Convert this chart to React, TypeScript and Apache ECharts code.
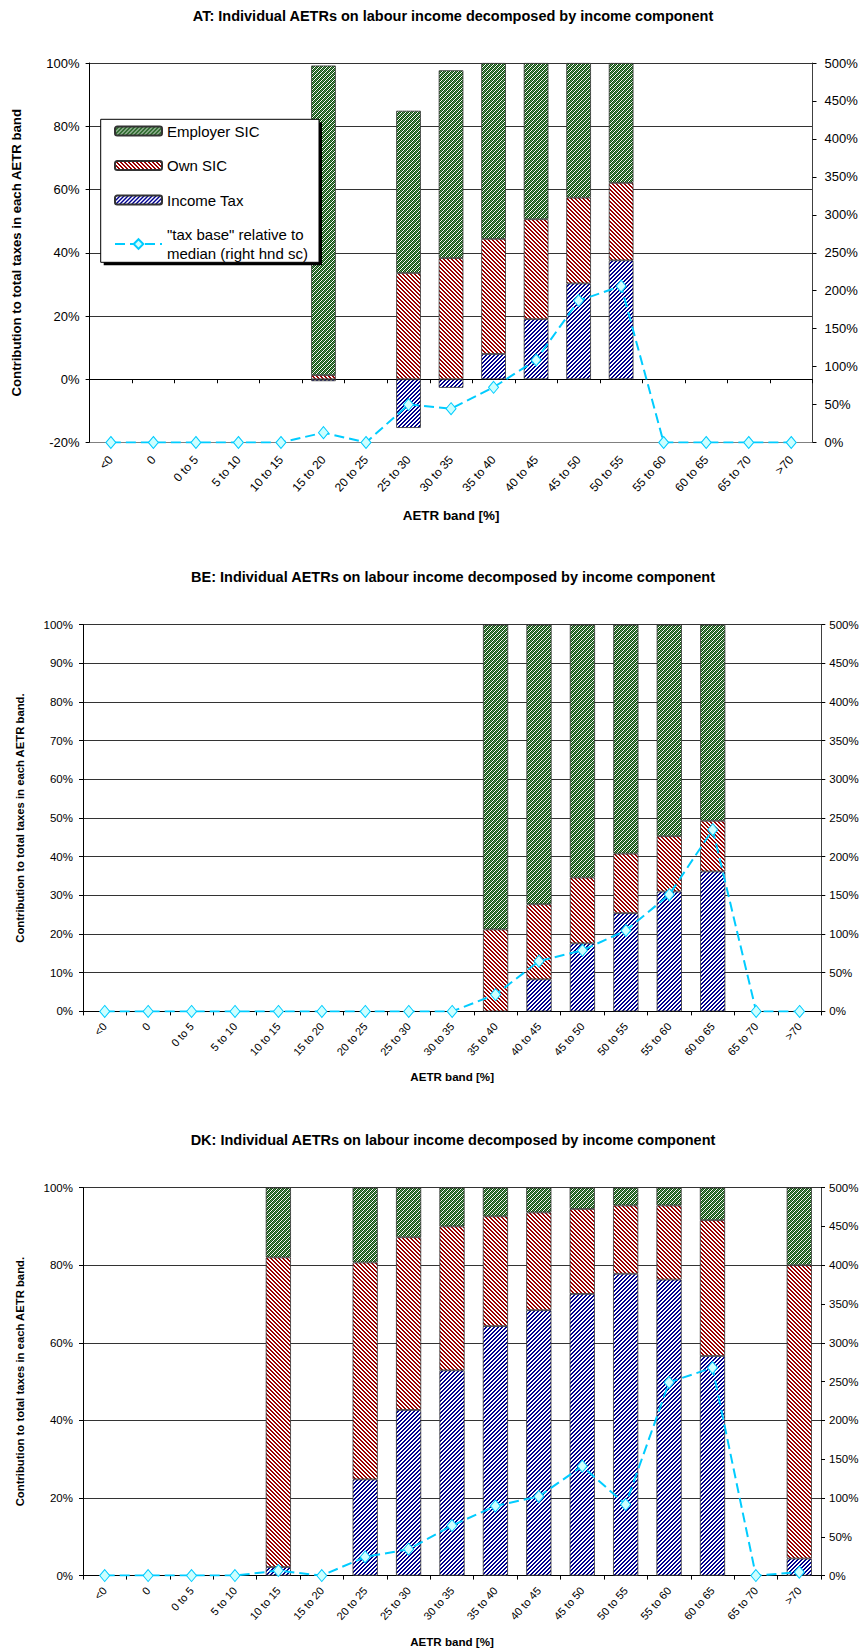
import React, { useEffect, useRef } from 'react';
import * as echarts from 'echarts';

const categories = ['<0', '0', '0 to 5', '5 to 10', '10 to 15', '15 to 20', '20 to 25', '25 to 30', '30 to 35', '35 to 40', '40 to 45', '45 to 50', '50 to 55', '55 to 60', '60 to 65', '65 to 70', '>70'];

const titles = [
  'AT: Individual AETRs on labour income decomposed by income component',
  'BE: Individual AETRs on labour income decomposed by income component',
  'DK: Individual AETRs on labour income decomposed by income component',
];

const seriesNames = ['Income Tax', 'Own SIC', 'Employer SIC'];
const lineName = '"tax base" relative to median (right hnd sc)';

// AT
const atIncomeTax = [null, null, null, null, null, -0.6, null, -15.4, -2.7, 8.0, 19.0, 30.3, 37.6, null, null, null, null];
const atOwnSic = [null, null, null, null, null, 1.3, null, 33.6, 38.3, 36.4, 31.6, 27.1, 24.5, null, null, null, null];
const atEmployerSic = [null, null, null, null, null, 97.9, null, 51.3, 59.4, 55.6, 49.4, 42.6, 37.9, null, null, null, null];
const atTaxBase = [0, 0, 0, 0, 0, 13, 0, 50, 44.5, 72.7, 108.7, 187, 206, 0, 0, 0, 0];

// BE
const beIncomeTax = [null, null, null, null, null, null, null, null, null, null, 8.3, 17.6, 25.4, 31.0, 36.2, null, null];
const beOwnSic = [null, null, null, null, null, null, null, null, null, 21.2, 19.4, 17.0, 15.4, 14.3, 13.1, null, null];
const beEmployerSic = [null, null, null, null, null, null, null, null, null, 78.8, 72.3, 65.4, 59.2, 54.7, 50.7, null, null];
const beTaxBase = [0, 0, 0, 0, 0, 0, 0, 0, 0, 21.8, 65, 79, 104.6, 151, 235, 0, 0];

// DK
const dkIncomeTax = [null, null, null, null, 2.2, null, 24.8, 42.7, 52.9, 64.3, 68.4, 72.6, 77.8, 76.3, 56.6, null, 4.4];
const dkOwnSic = [null, null, null, null, 79.8, null, 55.9, 44.5, 37.1, 28.3, 25.2, 21.9, 17.6, 19.1, 35.0, null, 75.6];
const dkEmployerSic = [null, null, null, null, 18.0, null, 19.3, 12.8, 10.0, 7.4, 6.4, 5.5, 4.6, 4.6, 8.4, null, 20.0];
const dkTaxBase = [0, 0, 0, 0, 6.5, 0, 24, 34, 64.5, 89.7, 102, 141, 91.5, 249, 268, 0, 4.4];

const leftTicksAT = { min: -20, max: 100, interval: 20 };
const leftTicksBE = { min: 0, max: 100, interval: 10 };
const leftTicksDK = { min: 0, max: 100, interval: 20 };
const rightTicks = { min: 0, max: 500, interval: 50 };

const FONT = 'Arial, "Liberation Sans", sans-serif';

function makeTile(size: number, pick: (x: number, y: number) => string) {
  const c = document.createElement('canvas');
  c.width = size;
  c.height = size;
  const ctx = c.getContext('2d')!;
  for (let y = 0; y < size; y++) {
    for (let x = 0; x < size; x++) {
      ctx.fillStyle = pick(x, y);
      ctx.fillRect(x, y, 1, 1);
    }
  }
  return c;
}

export default function App() {
  const ref = useRef<HTMLDivElement>(null);

  useEffect(() => {
    const chart = echarts.init(ref.current!, null, { renderer: 'svg' });

    const greenRows = ['DWDM', 'WDMD', 'DMDW', 'MDWD'];
    const greenTile = makeTile(4, (x, y) => {
      const ch = greenRows[y][x];
      return ch === 'D' ? '#0B4F0B' : ch === 'M' ? '#5E8E5E' : '#FFFFFF';
    });
    const redTile = makeTile(4, (x, y) => ((((x - y) % 4) + 4) % 4 < 2 ? '#9A0000' : '#FFFFFF'));
    const blueTile = makeTile(4, (x, y) => ((x + y) % 4 < 2 ? '#000090' : '#FFFFFF'));

    const fills: any = {
      'Employer SIC': { image: greenTile, repeat: 'repeat' },
      'Own SIC': { image: redTile, repeat: 'repeat' },
      'Income Tax': { image: blueTile, repeat: 'repeat' },
    };

    const charts = [
      {
        grid: { left: 89.6, top: 63, width: 722.9, height: 379.5 },
        left: leftTicksAT,
        data: [atIncomeTax, atOwnSic, atEmployerSic],
        line: atTaxBase,
        titleTop: 8,
        tickFont: 13,
        xFont: 12,
        nameFont: 13.4,
        yName: 'Contribution to total taxes in each AETR band',
        yNameFont: 13.2,
        yNameGap: 67,
        xNameGap: 66,
        xLabelMargin: 15,
        rightMargin: 12,
        zeroAxis: true,
      },
      {
        grid: { left: 83, top: 624.7, width: 738.3, height: 386.7 },
        left: leftTicksBE,
        data: [beIncomeTax, beOwnSic, beEmployerSic],
        line: beTaxBase,
        titleTop: 569.5,
        tickFont: 11.5,
        xFont: 11,
        nameFont: 11.6,
        yName: 'Contribution to total taxes in each AETR band.',
        yNameFont: 11.3,
        yNameGap: 58,
        xNameGap: 59,
        xLabelMargin: 13,
        rightMargin: 8,
        zeroAxis: false,
      },
      {
        grid: { left: 83, top: 1187.6, width: 738, height: 388 },
        left: leftTicksDK,
        data: [dkIncomeTax, dkOwnSic, dkEmployerSic],
        line: dkTaxBase,
        titleTop: 1132.5,
        tickFont: 11.5,
        xFont: 11,
        nameFont: 11.6,
        yName: 'Contribution to total taxes in each AETR band.',
        yNameFont: 11.3,
        yNameGap: 58,
        xNameGap: 60,
        xLabelMargin: 13,
        rightMargin: 8,
        zeroAxis: false,
      },
    ];

    const grid: any[] = [];
    const xAxis: any[] = [];
    const yAxis: any[] = [];
    const series: any[] = [];
    const title: any[] = [];

    charts.forEach((c, gi) => {
      grid.push({ ...c.grid, containLabel: false });
      title.push({
        text: titles[gi],
        left: 453,
        top: c.titleTop,
        textAlign: 'center',
        padding: 0,
        textStyle: { fontSize: 14.5, fontWeight: 'bold', fontFamily: FONT, color: '#000' },
      });

      const labelAxisIndex = xAxis.length;
      xAxis.push({
        type: 'category',
        gridIndex: gi,
        data: categories,
        position: 'bottom',
        boundaryGap: true,
        axisLine: { show: true, onZero: false, lineStyle: { color: c.zeroAxis ? '#808080' : '#000', width: 1 } },
        axisTick: { show: !c.zeroAxis, interval: 0, length: 4, lineStyle: { color: '#000' } },
        axisLabel: {
          interval: 0,
          rotate: 48,
          margin: c.xLabelMargin,
          fontSize: c.xFont,
          fontFamily: FONT,
          color: '#000',
        },
        splitLine: { show: false },
        name: 'AETR band [%]',
        nameLocation: 'middle',
        nameGap: c.xNameGap,
        nameTextStyle: { fontSize: c.nameFont, fontWeight: 'bold', fontFamily: FONT, color: '#000' },
      });

      const leftIndex = yAxis.length;
      yAxis.push({
        type: 'value',
        gridIndex: gi,
        position: 'left',
        min: c.left.min,
        max: c.left.max,
        interval: c.left.interval,
        axisLine: { show: true, lineStyle: { color: '#000', width: 1 } },
        axisTick: { show: true, length: 4, lineStyle: { color: '#000' } },
        axisLabel: { formatter: '{value}%', fontSize: c.tickFont, fontFamily: FONT, color: '#000', margin: 10 },
        splitLine: { show: true, lineStyle: { color: '#333', width: 1 } },
        name: c.yName,
        nameLocation: 'middle',
        nameGap: c.yNameGap,
        nameTextStyle: { fontSize: c.yNameFont, fontWeight: 'bold', fontFamily: FONT, color: '#000' },
      });
      const rightIndex = yAxis.length;
      yAxis.push({
        type: 'value',
        gridIndex: gi,
        position: 'right',
        min: rightTicks.min,
        max: rightTicks.max,
        interval: rightTicks.interval,
        axisLine: { show: true, lineStyle: { color: '#404040', width: 1 } },
        axisTick: { show: true, length: 4, lineStyle: { color: '#000' } },
        axisLabel: { formatter: '{value}%', fontSize: c.tickFont, fontFamily: FONT, color: '#000', margin: c.rightMargin },
        splitLine: { show: false },
      });

      if (c.zeroAxis) {
        xAxis.push({
          type: 'category',
          gridIndex: gi,
          data: categories,
          position: 'top',
          boundaryGap: true,
          axisLine: { show: true, onZero: true, onZeroAxisIndex: leftIndex, lineStyle: { color: '#000', width: 1 } },
          axisTick: { show: true, inside: true, interval: 0, length: 4, lineStyle: { color: '#000' } },
          axisLabel: { show: false },
          splitLine: { show: false },
        });
      }

      seriesNames.forEach((name, si) => {
        series.push({
          type: 'bar',
          name,
          xAxisIndex: labelAxisIndex,
          yAxisIndex: leftIndex,
          stack: 'stack' + gi,
          barWidth: '58%',
          data: c.data[si],
          itemStyle: { color: fills[name], borderColor: '#333', borderWidth: 0.8 },
          emphasis: { disabled: true },
        });
      });

      series.push({
        type: 'line',
        name: lineName,
        xAxisIndex: labelAxisIndex,
        yAxisIndex: rightIndex,
        data: c.line,
        symbol: 'diamond',
        symbolSize: [10, 12],
        showAllSymbol: true,
        lineStyle: { color: '#00CCFF', width: 2, type: [10, 5] },
        itemStyle: { color: '#CCFFFF', borderColor: '#00CCFF', borderWidth: 1 },
        emphasis: { disabled: true },
        z: 5,
      });
    });

    const option: any = {
      animation: false,
      backgroundColor: '#fff',
      title,
      grid,
      xAxis,
      yAxis,
      series,
      legend: [
        {
          data: ['Employer SIC', 'Own SIC', 'Income Tax'],
          orient: 'vertical',
          left: 114,
          top: 123.5,
          padding: 0,
          itemWidth: 47,
          itemHeight: 9,
          itemGap: 19.5,
          selectedMode: false,
          textStyle: { fontSize: 15, fontFamily: FONT, color: '#000' },
          z: 20,
        },
        {
          data: [lineName],
          orient: 'vertical',
          left: 114,
          top: 216,
          padding: 0,
          itemWidth: 47,
          itemHeight: 12,
          selectedMode: false,
          formatter: () => '"tax base" relative to\nmedian (right hnd sc)',
          textStyle: { fontSize: 15, fontFamily: FONT, color: '#000', lineHeight: 18.7, padding: [18.7, 0, 0, 0] },
          z: 20,
        },
      ],
      graphic: [
        { type: 'rect', z: 10, shape: { x: 103.7, y: 122.3, width: 218.3, height: 143 }, style: { fill: '#000' } },
        { type: 'rect', z: 11, shape: { x: 100.7, y: 119.3, width: 218.3, height: 143 }, style: { fill: '#fff', stroke: '#000', lineWidth: 1 } },
      ],
    };

    chart.setOption(option);
    return () => chart.dispose();
  }, []);

  return (
    <div
      ref={ref}
      style={{ position: 'absolute', left: 0, top: 0, width: 862, height: 1650, background: '#fff' }}
    />
  );
}
